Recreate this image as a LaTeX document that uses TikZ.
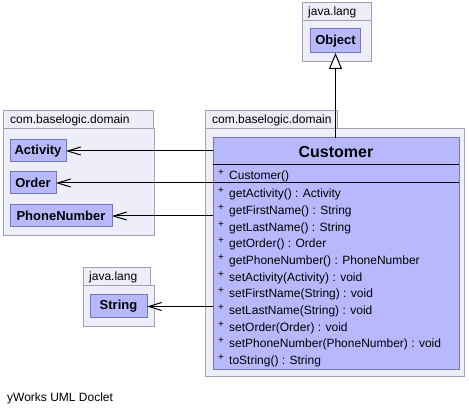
\documentclass[tikz,border=0pt]{standalone}
\usepackage{fontspec}
\setmainfont{Liberation Sans}
\usetikzlibrary{arrows.meta}
\definecolor{pkgfill}{RGB}{238,238,250}
\definecolor{pkgborder}{RGB}{160,160,178}
\definecolor{clsfill}{RGB}{184,184,255}
\definecolor{clsborder}{RGB}{118,118,178}
\begin{document}
\begin{tikzpicture}[x=1pt,y=-1pt,
  box/.style={rectangle, inner sep=0pt, outer sep=0pt, line width=1pt},
  pkg/.style={box, draw=pkgborder, fill=pkgfill},
  cls/.style={box, draw=clsborder, fill=clsfill, font=\fontsize{13}{15}\selectfont\bfseries},
  pkglabel/.style={inner sep=0pt, anchor=west, font=\fontsize{12}{14}\selectfont},
  member/.style={inner sep=0pt, anchor=base west, font=\fontsize{12}{14}\selectfont},
  plus/.style={inner sep=0pt, anchor=base west, font=\fontsize{10}{12}\selectfont},
  assoc/.style={line width=1pt, -{Straight Barb[length=13pt,width=8pt,line width=1pt]}},
  gen/.style={line width=1pt, -{Triangle[open,length=16pt,width=13pt,line width=1pt,fill=white]}}
]
\useasboundingbox (0,0) rectangle (469,414);

% java.lang (Object)
\node[pkg, minimum width=69pt, minimum height=41pt] (objbody) at (336.5,41.5) {};
\node[pkg, minimum width=69pt, minimum height=18pt] (objtab) at (336.5,12) {};
\node[pkglabel] (objlbl) at (308,12) {java.lang};
\node[cls, minimum width=50pt, minimum height=24pt] (obj) at (335.5,41) {Object};

% left com.baselogic.domain
\node[pkg, minimum width=151pt, minimum height=107pt] (dombody) at (78.5,182.5) {};
\node[pkg, minimum width=150pt, minimum height=18pt] (domtab) at (78,120) {};
\node[pkglabel] (domlbl) at (10,120) {com.baselogic.domain};
\node[cls, minimum width=56pt, minimum height=22pt] (act) at (38,151) {Activity};
\node[cls, minimum width=46pt, minimum height=22pt] (ord) at (33,183) {Order};
\node[cls, minimum width=102pt, minimum height=22pt] (phone) at (61,216) {PhoneNumber};

% java.lang (String)
\node[pkg, minimum width=71pt, minimum height=41pt] (strbody) at (118.5,306.5) {};
\node[pkg, minimum width=67pt, minimum height=18pt] (strtab) at (116.5,277) {};
\node[pkglabel] (strlbl) at (89,277) {java.lang};
\node[cls, minimum width=57pt, minimum height=23pt] (str) at (118.5,306.5) {String};

% right com.baselogic.domain
\node[pkg, minimum width=259pt, minimum height=247pt] (cpkgbody) at (334.5,252.5) {};
\node[pkg, minimum width=132pt, minimum height=18pt] (cpkgtab) at (271,120) {};
\node[pkglabel] (cpkglbl) at (212,120) {com.baselogic.domain};
\node[box, draw=clsborder, fill=clsfill, minimum width=246pt, minimum height=231pt] (cust) at (336,253.5) {};
\node[inner sep=0pt, font=\fontsize{16}{18}\selectfont\bfseries] (custname) at (336,152) {Customer};
\coordinate (s1l) at (213,165);
\coordinate (s1r) at (459,165);
\coordinate (s2l) at (213,183);
\coordinate (s2r) at (459,183);
\draw[line width=1pt, black] (s1l) -- (s1r);
\draw[line width=1pt, black] (s2l) -- (s2r);

\node[plus] (p0) at (218,175.5) {+};
\node[member] (m0) at (229,179.3) {Customer()};
\foreach \i/\txt in {1/{getActivity() : Activity},
  2/{getFirstName() : String},
  3/{getLastName() : String},
  4/{getOrder() : Order},
  5/{getPhoneNumber() : PhoneNumber},
  6/{setActivity(Activity) : void},
  7/{setFirstName(String) : void},
  8/{setLastName(String) : void},
  9/{setOrder(Order) : void},
  10/{setPhoneNumber(PhoneNumber) : void},
  11/{toString() : String}} {
  \node[plus] (p\i) at (218,{193.5+16.65*(\i-1)+0.5}) {+};
  \node[member] (m\i) at (229,{193.5+16.65*(\i-1)+4.3}) {\txt};
}

% connectors
\draw[gen] (obj.south |- cust.north) -- (obj.south);
\draw[assoc] (act.east -| cust.west) -- (act.east);
\draw[assoc] (ord.east -| cust.west) -- (ord.east);
\draw[assoc] (phone.east -| cust.west) -- (phone.east);
\draw[assoc] (str.east -| cust.west) -- (str.east);

% footer
\node[inner sep=0pt, anchor=west, font=\fontsize{12}{14}\selectfont] (footer) at (7,398) {yWorks UML Doclet};
\end{tikzpicture}
\end{document}
